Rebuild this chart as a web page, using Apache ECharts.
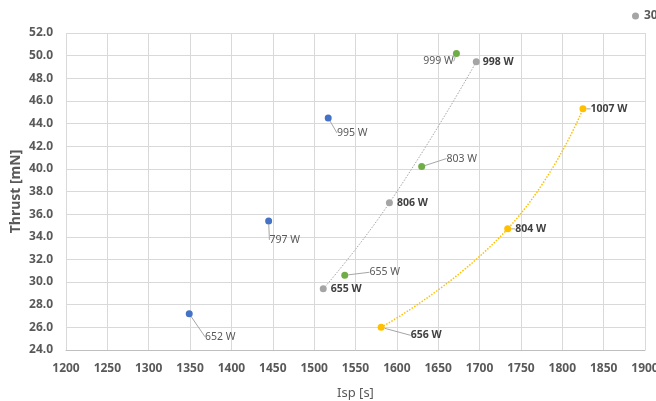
<!DOCTYPE html>
<html>
<head>
<meta charset="utf-8">
<script src="https://cdn.jsdelivr.net/npm/echarts@6/dist/echarts.min.js"></script>
<style>html,body{margin:0;padding:0;background:#fff}#c{width:656px;height:401px}</style>
</head>
<body>
<div id="c"></div>
<script>
// ---- data ----
const blueIsp = [1349, 1445, 1517];
const blueThrust = [27.2, 35.4, 44.5];
const bluePower = ['652 W', '797 W', '995 W'];

const grayIsp = [1511, 1591, 1696];
const grayThrust = [29.4, 37.0, 49.45];
const grayPower = ['655 W', '806 W', '998 W'];

const greenIsp = [1537, 1630, 1672];
const greenThrust = [30.6, 40.2, 50.2];
const greenPower = ['655 W', '803 W', '999 W'];

const yellowIsp = [1581, 1734, 1825];
const yellowThrust = [26.0, 34.7, 45.3];
const yellowPower = ['656 W', '804 W', '1007 W'];

const legendName = '300 V';

// ---- label offsets (styling) ----
const offsets = {
  blue: [[31, 23], [16, 19], [24, 15]],
  gray: [[23, 0], [23, 0], [22, 0]],
  green: [[40, -3], [40, -8], [-18, 8]],
  yellow: [[45, 8], [23, 0], [26, 0]]
};

const pairs = (xs, ys) => xs.map((x, i) => [x, ys[i]]);

function scatter(name, color, xs, ys, labels, off, bold, line) {
  return {
    name: name,
    type: 'scatter',
    symbolSize: 7,
    itemStyle: { color: color, opacity: 1 },
    data: pairs(xs, ys),
    z: 5,
    label: {
      show: true,
      position: 'inside',
      formatter: p => labels[p.dataIndex],
      fontFamily: 'Noto Sans',
      fontSize: 10.5,
      fontWeight: bold ? 'bold' : 'normal',
      color: bold ? '#404040' : '#595959'
    },
    labelLine: { show: line, lineStyle: { color: '#a6a6a6', width: 1 } },
    labelLayout: p => ({ dx: off[p.dataIndex][0], dy: off[p.dataIndex][1] }),
    emphasis: { disabled: true }
  };
}

const chart = echarts.init(document.getElementById('c'), null, { renderer: 'canvas' });
chart.setOption({
  animation: false,
  backgroundColor: '#ffffff',
  grid: { left: 66, right: 11, top: 33, bottom: 51, containLabel: false, outerBoundsMode: 'none' },
  legend: {
    data: [legendName],
    left: 627, top: 5,
    icon: 'circle', itemWidth: 7, itemHeight: 7, itemGap: 10,
    textStyle: { fontFamily: 'Noto Sans', fontSize: 12, fontWeight: 'bold', color: '#595959' }
  },
  xAxis: {
    type: 'value', min: 1200, max: 1900, interval: 50,
    name: 'Isp [s]', nameLocation: 'middle', nameGap: 37, nameMoveOverlap: false,
    nameTextStyle: { fontFamily: 'Noto Sans', fontSize: 13, color: '#595959' },
    axisLine: { show: true, lineStyle: { color: '#bfbfbf' } },
    axisTick: { show: false },
    axisLabel: { margin: 13, formatter: v => String(v), fontFamily: 'Noto Sans', fontSize: 12, fontWeight: 'bold', color: '#595959' },
    splitLine: { show: true, lineStyle: { color: '#d9d9d9' } }
  },
  yAxis: {
    type: 'value', min: 24, max: 52, interval: 2,
    name: 'Thrust [mN]', nameLocation: 'middle', nameGap: 43, nameRotate: 90, nameMoveOverlap: false,
    nameTextStyle: { fontFamily: 'Noto Sans', fontSize: 14, fontWeight: 'bold', color: '#595959' },
    axisLine: { show: false },
    axisTick: { show: false },
    axisLabel: { margin: 13, formatter: v => v.toFixed(1), fontFamily: 'Noto Sans', fontSize: 12, fontWeight: 'bold', color: '#595959' },
    splitLine: { show: true, lineStyle: { color: '#d9d9d9' } }
  },
  series: [
    {
      name: 'gray trend', type: 'line', smooth: true, symbol: 'none',
      data: pairs(grayIsp, grayThrust),
      lineStyle: { color: '#a5a5a5', width: 1, type: [1.5, 1.5] }, z: 2, silent: true
    },
    {
      name: 'yellow trend', type: 'line', smooth: true, symbol: 'none',
      data: pairs(yellowIsp, yellowThrust),
      lineStyle: { color: '#ffc000', width: 1.5, type: [1.5, 1.5] }, z: 2, silent: true
    },
    scatter('blue', '#4472c4', blueIsp, blueThrust, bluePower, offsets.blue, false, true),
    scatter(legendName, '#a5a5a5', grayIsp, grayThrust, grayPower, offsets.gray, true, false),
    scatter('green', '#70ad47', greenIsp, greenThrust, greenPower, offsets.green, false, true),
    scatter('yellow', '#ffc000', yellowIsp, yellowThrust, yellowPower, offsets.yellow, true, true)
  ]
});
</script>
</body>
</html>
